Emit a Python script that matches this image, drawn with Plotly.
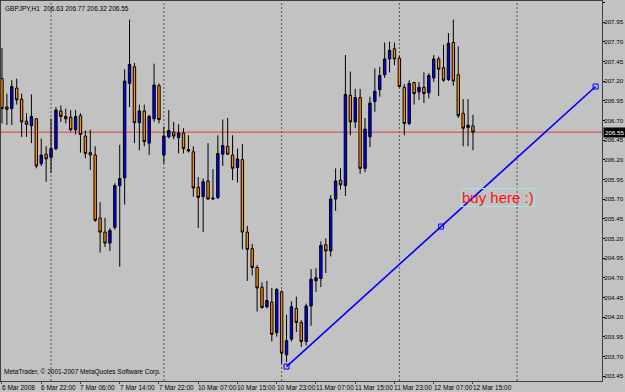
import plotly.graph_objects as go

# ---- data (GBPJPY H1, bar numbers 0..96) ----
bars = list(range(97))
opens = [
    207.23, 206.87, 206.85, 207.11, 206.97, 206.69, 206.63, 206.72, 206.15, 206.27,
    206.23, 206.34, 206.82, 206.75, 206.74, 206.58, 206.76, 206.50, 206.29, 206.26,
    205.46, 205.28, 205.14, 205.34, 205.87, 205.97, 207.17, 207.38, 206.67, 206.82,
    206.41, 206.72, 207.14, 206.26, 206.49, 206.55, 206.48, 206.54, 206.33, 206.30,
    205.85, 205.73, 205.93, 205.70, 205.72, 206.27, 206.37, 206.26, 206.10, 206.20,
    205.28, 205.07, 204.83, 204.58, 204.33, 204.39, 204.00, 204.52, 203.72, 203.92,
    204.31, 204.13, 203.89, 204.34, 204.66, 204.69, 205.12, 205.04, 205.70, 205.94,
    205.87, 207.02, 206.68, 206.99, 206.09, 206.49, 206.94, 207.09, 207.28, 207.48,
    207.61, 207.49, 207.12, 206.66, 207.18, 207.06, 207.12, 207.05, 207.24, 207.48,
    207.37, 207.22, 207.69, 207.28, 206.79, 206.61, 206.63]
highs = [
    207.62, 207.04, 207.21, 207.23, 207.04, 206.79, 207.03, 206.73, 206.47, 206.37,
    206.72, 206.87, 206.89, 206.85, 206.83, 206.83, 206.79, 206.57, 206.58, 206.37,
    205.66, 205.46, 205.33, 205.90, 206.39, 207.35, 207.98, 207.43, 206.90, 206.90,
    206.77, 207.42, 207.17, 206.62, 206.83, 206.68, 206.65, 206.60, 206.51, 206.37,
    205.98, 205.96, 206.41, 206.08, 206.51, 206.71, 206.73, 206.51, 206.34, 206.40,
    205.36, 205.13, 204.86, 204.64, 204.66, 204.57, 204.57, 204.54, 204.23, 204.40,
    204.46, 204.16, 204.37, 204.81, 204.82, 205.16, 205.20, 205.75, 206.09, 206.09,
    207.53, 207.32, 207.10, 207.10, 206.73, 207.00, 207.36, 207.38, 207.69, 207.70,
    207.69, 207.52, 207.16, 207.21, 207.19, 207.19, 207.31, 207.30, 207.53, 207.51,
    207.66, 207.81, 207.98, 207.64, 206.97, 206.97, 206.77]
lows = [
    206.66, 206.64, 206.64, 206.90, 206.49, 206.49, 206.41, 206.09, 206.12, 205.92,
    206.03, 206.32, 206.68, 206.66, 206.56, 206.52, 206.29, 206.22, 206.07, 205.41,
    205.02, 205.09, 205.04, 205.31, 204.84, 205.63, 206.87, 206.41, 206.32, 206.37,
    206.26, 206.68, 206.66, 206.15, 206.47, 206.46, 206.28, 206.28, 206.29, 205.73,
    205.33, 205.28, 205.69, 205.69, 205.70, 206.12, 206.26, 205.94, 205.91, 205.06,
    204.66, 204.73, 204.27, 204.31, 204.31, 203.89, 203.95, 203.61, 203.63, 203.89,
    204.01, 203.82, 203.84, 204.09, 204.52, 204.58, 204.76, 204.97, 205.55, 205.82,
    205.74, 206.51, 206.60, 206.02, 206.04, 206.36, 206.81, 207.00, 207.24, 207.31,
    207.40, 207.12, 206.51, 206.64, 206.90, 206.96, 206.92, 206.98, 207.19, 207.01,
    207.19, 207.20, 207.14, 206.73, 206.37, 206.37, 206.32]
closes = [
    206.85, 206.84, 207.13, 206.96, 206.68, 206.65, 206.75, 206.12, 206.26, 206.21,
    206.34, 206.83, 206.75, 206.72, 206.58, 206.75, 206.52, 206.28, 206.26, 205.43,
    205.28, 205.14, 205.30, 205.87, 205.96, 207.20, 207.41, 206.67, 206.82, 206.43,
    206.75, 207.15, 206.71, 206.50, 206.57, 206.50, 206.54, 206.34, 206.31, 205.84,
    205.72, 205.92, 205.70, 205.71, 206.28, 206.38, 206.27, 206.09, 206.21, 205.28,
    205.06, 204.83, 204.57, 204.32, 204.41, 203.98, 204.55, 203.74, 203.90, 204.33,
    204.13, 203.89, 204.34, 204.68, 204.70, 205.11, 205.04, 205.70, 205.93, 205.88,
    207.03, 206.68, 206.99, 206.09, 206.59, 206.92, 207.07, 207.27, 207.48, 207.59,
    207.48, 207.13, 206.66, 207.17, 207.04, 207.12, 207.04, 207.27, 207.48, 207.35,
    207.21, 207.68, 207.20, 206.76, 206.60, 206.64, 206.55]

tick_bars = [0, 8, 16, 24, 32, 40, 48, 56, 64, 72, 80, 88, 96]
tick_text = ["6 Mar 2008", "6 Mar 22:00", "7 Mar 06:00", "7 Mar 14:00", "7 Mar 22:00",
             "10 Mar 07:00", "10 Mar 15:00", "10 Mar 23:00", "11 Mar 07:00",
             "11 Mar 15:00", "11 Mar 23:00", "12 Mar 07:00", "12 Mar 15:00"]
separator_bars = [10, 33, 57, 81, 105]

bid_price = 206.55
trend_x = [58, 89.5, 121]
trend_y = [203.57, 205.35, 207.13]
note_x, note_y, note_text = 101, 205.84, "buy here :)"
title_text = "GBPJPY,H1  206.63 206.77 206.32 206.55"
copyright_text = "MetaTrader, \u00a9 2001-2007 MetaQuotes Software Corp."

BG = "#C2C2C2"
FONT = "Liberation Sans"

fig = go.Figure()
fig.add_trace(go.Candlestick(
    x=bars, open=opens, high=highs, low=lows, close=closes,
    increasing=dict(line=dict(color="#000000", width=1), fillcolor="#0000FF"),
    decreasing=dict(line=dict(color="#000000", width=1), fillcolor="#FF8C00"),
    whiskerwidth=0, showlegend=False, hoverinfo="skip"))

fig.add_trace(go.Scatter(
    x=trend_x, y=trend_y, mode="lines+markers",
    line=dict(color="#0000FF", width=1.6),
    marker=dict(symbol="square-open", size=5, color="#0000FF", line=dict(width=1)),
    showlegend=False, hoverinfo="skip"))

shapes = []
for b in separator_bars:
    shapes.append(dict(type="line", xref="x", yref="paper", x0=b, x1=b, y0=0, y1=1,
                       line=dict(color="#555555", width=1, dash="2px,2px"), layer="below"))
shapes.append(dict(type="line", xref="paper", yref="y", x0=0, x1=1, y0=bid_price, y1=bid_price,
                   line=dict(color="#D84040", width=1), layer="below"))

annotations = []
for b, t in zip(tick_bars, tick_text):
    annotations.append(dict(x=b, xref="x", y=0, yref="paper", text=t, showarrow=False,
                            xanchor="left", yanchor="top", xshift=-2, yshift=-1,
                            font=dict(family=FONT, size=6.5, color="#000000")))
annotations.append(dict(x=0, xref="paper", y=1, yref="paper", text=title_text, showarrow=False,
                        xanchor="left", yanchor="top", xshift=2, yshift=-2,
                        font=dict(family=FONT, size=6.5, color="#000000")))
annotations.append(dict(x=0, xref="paper", y=0, yref="paper", text=copyright_text, showarrow=False,
                        xanchor="left", yanchor="bottom", xshift=1, yshift=3,
                        font=dict(family=FONT, size=6.5, color="#000000")))
annotations.append(dict(x=1, xref="paper", y=bid_price, yref="y", text=f"{bid_price:.2f}",
                        showarrow=False, xanchor="left", yanchor="middle", xshift=1,
                        bgcolor="#000000", borderpad=1,
                        font=dict(family=FONT, size=6.2, color="#FFFFFF")))
annotations.append(dict(x=note_x, xref="x", y=note_y, yref="y", text=note_text, showarrow=False,
                        xanchor="center", yanchor="top", bordercolor="#9EE6E6", borderwidth=1,
                        borderpad=0,
                        font=dict(family="Liberation Sans", size=15, color="#FF1010")))

fig.update_layout(
    template="none",
    width=625, height=392,
    margin=dict(l=1, r=23, t=1, b=11, pad=0),
    paper_bgcolor=BG, plot_bgcolor=BG,
    shapes=shapes, annotations=annotations,
    xaxis=dict(range=[-0.2, 122.3], showgrid=False, zeroline=False, showline=True,
               linecolor="#404040", linewidth=1, mirror=True, ticks="outside",
               tickvals=tick_bars, ticklen=2, tickcolor="#404040",
               showticklabels=False, rangeslider=dict(visible=False), automargin=False),
    yaxis=dict(side="right", range=[203.387, 208.217], showgrid=False, zeroline=False,
               showline=True, linecolor="#404040", linewidth=1, mirror=True,
               ticks="outside", ticklen=2, tickcolor="#000000",
               tick0=203.45, dtick=0.25, tickformat=".2f", ticklabelstandoff=-2,
               tickfont=dict(family=FONT, size=6.2, color="#000000"), automargin=False),
)

fig.write_html("out.html")
